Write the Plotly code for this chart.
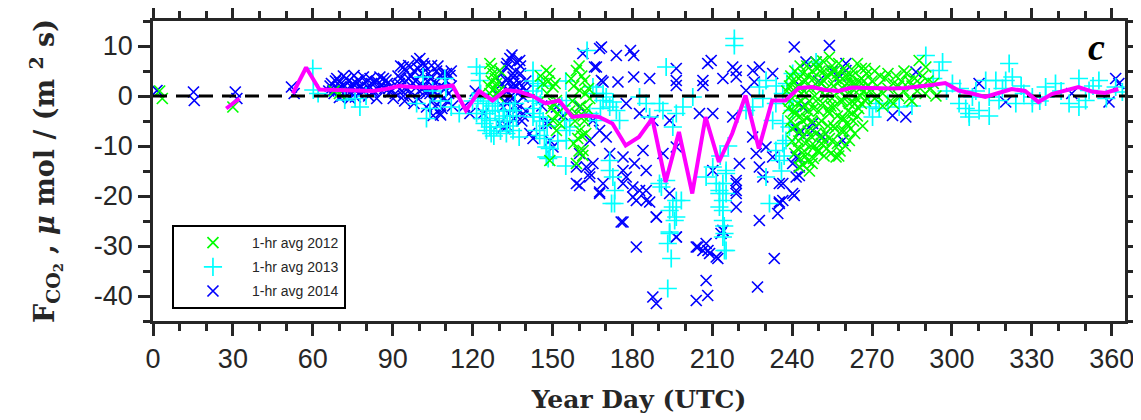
import plotly.graph_objects as go

# ---------------- data ----------------
pts_2012 = [
    (2.5, 1.0), (3.5, -0.5), (30, -2.2), (68, 1.0), (70, 0.5),
    (126.5, 6.5), (127.1, 5.5), (127.7, 4.5), (128.5, 3.5), (129, 2.5), (126.5, 0.5), (130.2, 5.1),
    (128, 1.5), (127, 3), (129.5, 0.0), (126, 2), (130, 1),
    (147.7, 5.1), (149, 4.5), (150.2, 1.8), (151.5, -0.9), (150.2, -4.9), (151.5, -6.9), (149, -12.9),
    (148.5, 3), (146.5, 2.5), (149.5, -2.5), (152, -3.5), (148, 0.5), (151, 2.5), (150.5, -1.5),
    (152.7, -5.5), (145.5, 4),
    (159, 5.1), (160.2, 1.1), (159, -3.5), (160.2, -6.9), (161.5, -10.9), (159, -13.5), (162.1, 3.1),
    (161.4, -11.9), (158, 2), (157.5, -1), (160.5, -2), (161, 4), (162.5, 0.5), (158.5, -5), (159.5, -8.5),
    (161, -8), (162, -5), (163, -2.5), (157, 3.5), (160, 6), (158, -9.5), (163.5, 1.5), (156.5, -3),
    (160, -11), (162.5, -7.5), (164, -0.5), (161.5, -4),
    (238, 1), (239, -1), (240, 3), (240.5, -3), (241, 5), (241.5, -6), (242, 2), (242.5, -9), (243, -4),
    (243.5, 0.5), (244, 4.5), (244.5, -11), (245, -2), (245.5, 6), (246, -7), (246.5, -15), (247, 1.5),
    (247.5, -5), (248, 3.5), (248.5, -10), (249, -1), (249.5, 5.5), (250, -3), (250.5, -8), (251, 2.5),
    (251.5, 7), (252, -12), (252.5, 0), (253, 4), (253.5, -6), (254, 7.8), (254.5, -2), (255, -9),
    (255.5, 2), (256, 5), (256.5, -12.2), (257, -4), (257.5, 1), (258, 3), (258.5, -7), (259, -1),
    (259.5, 5.5), (260, -10), (260.5, 2.5), (261, -3), (261.5, -8.9), (262, 0.5), (262.5, 4), (263, -5),
    (263.5, -1.5), (264, 2), (264.5, 6.5), (265, -2.5), (265.5, 0), (266, 3.5), (266.5, -6), (267, 1),
    (267.5, -1), (268, 4.5), (268.5, 2), (242.7, -14.2), (246, -13), (248, -12.5), (250, -11),
    (253, -10.5), (244, -8), (247, -10), (240, -9), (239.5, -5), (242, -1.5), (251, -5), (254, -3.5),
    (256, -6.5), (258, -11), (259.5, -4.5), (262, -6.5), (245, 3), (243, 6), (249, 6.8), (252, 5),
    (255, 6), (257, 4.5), (260, 4), (263, 2.5), (266, 5.5), (241, -11.5), (246, -3),
    (238.5, -2.5), (239, 2), (239.5, 4), (240, -6.5), (240.5, 0.5), (241, -3.5), (241.5, 1.5),
    (242, -10.5), (242.5, 3.5), (243, -7), (243.5, -1), (244, -5), (244.5, 1), (245, -9.5), (245.5, -4.5),
    (246, 4), (246.5, -1), (247, -8), (247.5, 5), (248, -2.5), (248.5, 0), (249, -7.5), (249.5, 2),
    (250, -5.5), (250.5, 5), (251, -9.5), (251.5, -1.5), (252, 3), (252.5, -7.5), (253, 1.5), (253.5, -3),
    (254, -8.5), (254.5, 4.5), (255, -0.5), (255.5, -6), (256, -2), (256.5, 3.5), (257, -9.5),
    (257.5, 6.5), (258, -1), (258.5, -4.5), (259, 1.5), (259.5, -7), (260, 0), (260.5, -5.5), (261, 4),
    (261.5, -1.5), (262, 2.5), (262.5, -3.5), (263, 5), (263.5, -7.5), (264, -0.5), (264.5, -4),
    (265, 3), (265.5, 1.5), (266, -1.5), (267, 3), (267.5, 5.5), (268, -0.5), (243, -12.5), (245, -12),
    (247.5, -13.5), (249.5, -11), (252, -9), (254.5, -11.5), (257.5, -12), (244, -13.8),
    (269, 1), (270, 3), (271, -0.5), (272, 2), (273, 4), (274, 0.5), (275, 3.5), (276, 1.5), (277, -1),
    (278, 2.5), (279, 4), (280, 0), (281, 3), (282, 1), (283, 4.5), (284, -0.5), (285, 2), (286, 3.5),
    (287, 1), (287.7, 7.1), (288, 2.5), (289, 4), (290, 0.5), (290.2, 5.8), (291, 3), (292, 1.5),
    (293, 2.5), (294, 0), (271, 5), (274, -2), (278, -1.5), (282, 5), (285, -1), (272, 0), (276, 4.5),
    (280, 2), (284, 3),
]

pts_2013 = [
    (60, 5.5), (60.2, 1.2), (62, 0.5), (72, -0.8), (75.9, -0.5), (77.7, -2.2), (80, 0), (99, -1.5),
    (101.4, 3.8), (102.7, -4.5), (105, 1.0), (108, -1), (109.6, 3.5), (112, -2.2), (115, -3.5),
    (110, 1.5), (104, -2.5),
    (121.5, 5.8), (122.7, 3.1), (122.7, 4.5), (121.5, -3.5), (125.2, -2.9), (125.2, -3.5), (126.5, -4.9),
    (126.5, -6.2), (129, -6.2), (125.2, -6.9), (131.5, -2.9), (135.2, -2.9), (132.7, -7.5), (134, -2.9),
    (135.2, -6.9), (123, 0.5), (124, -1.5), (127.5, -2), (128, -8), (130, -4.5), (133, -5), (136.5, -4),
    (137.5, -8.2), (120, -1), (122, -0.5),
    (123.5, -4.5), (124.5, -5.5), (126, -1), (127, -7.5), (128.5, -3), (129.5, -1.5), (130.5, -7),
    (132, -4), (134, -6), (136, -1.5),
    (142.7, 5.1), (142.7, 3), (142.7, 1), (142.7, -1), (142.7, -2.5), (142.7, -4.2), (144, -0.2),
    (144, -6.9), (145.2, -4.2), (145.2, -7.9), (147.7, -10.2), (147.7, -12.2), (150.2, -12.2),
    (148.4, -12.5), (155.2, -0.9), (156.5, -6.2), (155.2, -6.9), (155.2, -8.9), (154.6, -4.9), (155, 3),
    (155, -14), (146, 2), (152, -9), (153.5, -2),
    (143, -3.5), (144.5, 2.5), (145.5, -1.5), (146.5, -5), (147, -8.5), (148, -6), (149, -10.5),
    (163, 9.1), (165.2, 1.8), (169, -0.9), (171.5, -2.2), (174, -2.9), (166.5, -4.9), (175.2, -4.9),
    (171.5, -12.9), (172.7, -16.2), (173.3, -21.5), (172.2, -21.5), (173.4, -18.9), (171.5, -14.9),
    (164, -3.5), (169, 0.5), (166.5, 0.5), (170.2, -0.2), (172.7, -1.2), (168, -2.5),
    (182.7, -0.2), (185.2, -1.5), (186.5, -4.2), (190.2, -1.5), (191.5, -2.9), (196.5, -3.5), (199, -2.2),
    (195.2, -6.2), (190.2, -17.5), (192.7, -16.9), (196.5, -20.9), (195.2, -22.2), (196.5, -24.2),
    (194, -27.5), (193.3, -29.5), (194.6, -32.5), (193.3, -38.5), (192.7, 5.8), (198.4, -20.9),
    (194, -22.9), (190.9, -18.2), (195.9, -24.9), (194, -27.2),
    (202.7, -0.2), (207.7, -16.2), (210.2, -14.2), (211.5, -17.5), (212.7, -18.9), (214, -20.9),
    (214, -22.9), (214, -24.9), (214.6, -27.5), (214.6, -30.9), (215.2, -15.5), (215.2, -19.5),
    (212.7, -22.2), (215.2, -30.9), (214, -28.2), (214, -17.5), (212.7, -19.5), (215.2, -14.9),
    (218.3, 11.5), (218.3, 10.1), (213, -12), (216, -10), (214.5, -26),
    (222.7, -2.9), (225.2, -2.2), (227.7, 1.8), (230.2, 3.1), (233.9, -1.5), (236.5, 0.5), (240.2, 4.5),
    (240.2, -2.9), (232.7, -4.9), (239, -6.2), (231.5, -21.5), (230.2, -16.2), (233.9, -10.9),
    (237.7, -8.9), (235.2, -12.9), (236.5, -5.5), (236.5, -9.5), (237, -12), (236, -15), (238, 2.5),
    (239, -1), (234, 2), (229, -0.5), (249, 6.8),
    (269, -2.2), (271.5, -1.5), (272.7, -2.5), (280.2, -2.2), (270.2, -4.2), (290.2, 8.1), (296.5, 6.8),
    (295.2, 5.1), (300.2, 2.5), (276, -1.5), (285, -2), (293, 3.5), (298, 1),
    (302.7, -1.5), (305.2, -2.5), (306.5, -3.5), (310.2, -2.9), (312.7, 3.1), (316.5, 3.1), (320.2, 3.1),
    (321.5, 6.5), (322.7, 3.8), (324, -1.5), (330.2, -1.5), (335.2, 1.8), (338.9, 2.5), (344, -1.5),
    (347.7, 3.5), (350.2, -0.9), (355.2, 3.1), (361.5, 1.8), (317.7, -0.9), (307.7, -0.2), (314, -0.2),
    (330.2, -0.2), (335.2, -0.2), (347.7, -2.2), (351.5, 1.1), (306.5, -4.2), (314, -4), (327, 0.5),
    (341, 1), (358, -0.5), (364, 0.8), (303, 1.5), (309, 1), (319, 1.5), (326, 2), (333, -1), (353, 2),
]

pts_2014 = [
    (1.5, 1.1), (15.2, 0.8), (15.5, -0.9), (30.9, 0.8), (31.5, -0.5), (52, 1.8), (53, 0.5),
    (66, 1), (67, 2.5), (68, 0.5), (69, 3.5), (69.5, 1.5), (70, 2.8), (71, 0), (71.5, 4), (72, 2), (73, 1),
    (73.5, 3), (74, -0.5), (75, 2.5), (75.5, 4.1), (76, 1.2), (77, 3.2), (77.5, 0.3), (78, 2), (79, 3.8),
    (79.5, 1), (80, 2.8), (81, 0), (81.5, 3.5), (82.1, 2.5), (83, 1), (84, 3), (85.2, 3.8), (86.5, 3.5),
    (87, 1.5), (88, 2.5), (89, 0.8), (90.2, -0.5), (70, -0.3), (76, -0.2), (84, -0.5),
    (66.5, 2), (67.5, 1), (68.5, 3), (70.5, 1.8), (72.5, 3.5), (73, 0.2), (74.5, 1.8), (76.5, 2.5),
    (78.5, 1.2), (80.5, 1.8), (82.5, 0.8), (83.5, 2.8), (85, 1.5), (86, 2.2), (87.5, 3.2), (88.5, 1.5),
    (91.5, 2), (92, 4), (93, 6), (94, 5.8), (93.5, 1), (94.5, -1), (95, 3), (96, 6.1), (96.5, 0.5),
    (97.7, 2.5), (98, 5), (99, 7), (99.5, -0.5), (100.2, 7.5), (101, 4.5), (101.5, 1.5), (102, 6),
    (102.7, -2.2), (103, 3), (104, 0.5), (104.6, 6.1), (105, -0.9), (105.2, -3.9), (106, 2.5), (106.5, 5),
    (107, 0), (107.7, 4.1), (107.7, -3.5), (108.5, -2.5), (109, 4.5), (109.5, 1.5), (110.2, 4.5),
    (110.5, -1), (111.5, 4.1), (112, 2), (112.5, -2), (100, 1), (98, -1.5), (103.5, 4.5), (96, 3.5),
    (91, 0.5),
    (92.5, 2.5), (93, 3.5), (94, 0), (95.5, 1.5), (97, 4), (98.5, 3), (99.5, 5.5), (100.5, 2.5),
    (101.5, 6.5), (102.5, 0.5), (103.5, 1.5), (104.5, 3.5), (105.5, 1), (106, -2), (107, 6), (108, 2),
    (109, -0.5), (110, 3), (111, 0.5), (112, 5), (108, -3.8), (95, 5),
    (119, -3.5), (117, -2), (121, 1), (124, -3.5),
    (130.2, -5.5), (131.5, -2.2), (131.5, -6.2), (132.7, 3.1), (132.7, 5.8), (134, 7.5), (134.8, 8.2),
    (135.2, 4.5), (135.2, 3.8), (136.5, 6.8), (136.5, -1.5), (137.7, 7.1), (137.7, 2.5), (139, 1.8),
    (139, -0.2), (141.5, -7.5), (142.7, -8.5), (133, 1), (134.5, 0), (136, 2), (138, 4.5), (140, -3),
    (133.5, -3.5), (131, 2.5), (135.5, -4.5), (138.5, -5), (129, 0.5), (137, 0.5), (140, 3), (134, -1),
    (131, 4.5), (132, -1), (133, 6.5), (134, 3), (135, 1.5), (136, 5), (137, -2.5), (138, 6), (139, -4),
    (140, 1), (135.5, 2.5), (133, -6),
    (147.7, -5.5), (149, -8.9), (149, -5.5), (150.2, -10.2), (154, -3.9), (151.5, -2.2), (146, -2),
    (161.4, 8.5), (166.5, 5.8), (167.7, 9.5), (168.4, 9.8), (168.4, 3.1), (165.8, 5.8), (169, 2.8),
    (174, 8.1), (174.6, 2.8), (179.3, 9.1), (180.5, 8.1), (180.5, 3.8), (186.5, 3.5), (196.5, 5.5),
    (196.5, 3.1), (196.5, 2.1), (208.3, 6.5), (209.6, 7.1), (206.5, 3.1), (206.5, 2.1), (214, 3.5),
    (217.7, 5.8), (219, 5.1), (219, 3.8), (225.2, 5.1), (227.7, 5.8), (232.7, 4.5), (240.8, 9.8),
    (225.8, 2.8), (222.7, 1.1),
    (160.2, -2.2), (165.2, -4.9), (164, -8.9), (160.2, -11.5), (159, -14.2), (159, -17.5), (164, -15.5),
    (167.7, -19.5), (169, -17.5), (165.2, -13.5), (171.5, -11.5), (170.2, -8.2), (176.5, -12.2),
    (176.5, -14.9), (177.7, -16.2), (180.2, -18.2), (181.5, -20.9), (186.5, -21.2), (185.2, -18.9),
    (180.8, -13.5), (184, -10.9), (185.2, -14.9), (175.8, -25.2), (181.5, -30.2), (189, -24.2),
    (187.7, -40.2), (189, -41.5), (196.5, -28.2), (196.5, -10.2), (191.5, -11.5), (194, -19.5),
    (204, -30.2), (207.7, -29.5), (209, -31.5), (206.5, -30.9), (212.1, -32.5), (207.7, -36.9),
    (208.3, -39.9), (204, -40.9), (214, -26.9), (213.3, -27.5), (210.2, -14.9), (219, -17.5),
    (219, -18.9), (219, -22.2), (220.2, -13.5), (217.7, -4.2), (210.2, -3.5), (205.2, -3.5),
    (225.2, -8.2), (226.5, -11.5), (227.7, -14.2), (229, -16.2), (227.7, -24.9), (227, -38.2),
    (233.3, -32.5), (235.2, -17.5), (235.2, -21.5), (234.6, -23.5), (232.7, -12.2), (230.2, -10.2),
    (240.2, -19.5), (241.5, -16.2), (240.2, -13.5), (194, -4.9), (187.7, -4.9), (177.7, -1.5),
    (182.7, -3.5), (167.7, -6.9), (162.7, -14.2), (176.5, -25.2), (196.5, -28.2), (214, -26.9),
    (219, -16.9), (219, -19.5), (189, -24.2), (185.2, -20.9), (180.2, -20.2), (160.2, -17.9),
    (167.7, -19.2), (164, -16.2), (176.5, -17.5), (182.7, -18.9), (204.6, -30.2), (208.4, -30.9),
    (211.5, -32.2), (235.2, -21.2),
    (254, 10.1), (245.2, 6.8), (249, 6.8), (260.2, 6.5), (260.2, 5.1), (286.5, 4.8), (277.7, -3.9),
    (282.7, -4.2), (240.8, -6.2), (243.3, -6.9), (247.7, -6.9), (251.5, -8.2), (259, -8.9),
    (242.7, -14.2), (242.7, -7.5), (241.5, -12.2), (242.7, -15.9), (240.8, -19.9), (236.5, -17.5),
    (236.5, -20.9), (244, -2.2), (247.7, -5.5), (255, 5), (258, 4), (250, 3), (243, 2),
    (310.2, 2.5), (320.2, -1.2), (359, -1.2), (361.5, 3.5), (362.7, 2.5), (345, 0.5),
]

avg_days_a = [27.5, 32.5]
avg_vals_a = [-2.5, -0.5]
avg_days = [52.5, 57.5, 62.5, 67.5, 72.5, 77.5, 82.5, 87.5, 92.5, 97.5, 102.5, 107.5, 112.5, 117.5,
            122.5, 127.5, 132.5, 137.5, 142.5, 147.5, 152.5, 157.5, 162.5, 167.5, 172.5, 177.5, 182.5,
            187.5, 192.5, 197.5, 202.5, 207.5, 212.5, 217.5, 222.5, 227.5, 232.5, 237.5, 242.5, 247.5,
            252.5, 257.5, 262.5, 267.5, 272.5, 277.5, 282.5, 287.5, 292.5, 297.5, 302.5, 307.5, 312.5,
            317.5, 322.5, 327.5, 332.5, 337.5, 342.5, 347.5, 352.5, 357.5, 362.5]
avg_vals = [0.5, 5.7, 1.3, 1.2, 1.3, 1.0, 1.0, 1.4, 2.0, 1.8, 1.8, 1.7, 2.1, -2.9,
            1.0, -0.9, 1.2, 0.9, 0.0, -1.5, -0.9, -4.2, -3.9, -4.2, -5.5, -9.9, -8.2,
            -4.5, -17.2, -7.2, -19.5, -4.2, -13.2, -7.5, 0.1, -10.5, -0.9, -0.9, 1.6, 1.8,
            1.2, 1.0, 1.7, 1.6, 1.5, 1.5, 1.6, 1.8, 2.2, 2.6, 1.1, 0.5, -0.2,
            0.6, 1.4, 1.0, -1.2, 0.4, 1.0, 1.8, 0.9, 0.6, 1.4]

zero_days = [0, 365]
zero_vals = [0, 0]

x_ticks = [0, 30, 60, 90, 120, 150, 180, 210, 240, 270, 300, 330, 360]
y_ticks = [-40, -30, -20, -10, 0, 10]
y_tick_labels = ["-40", "-30", "-20", "-10", "0", "10"]

# ---------------- figure ----------------
def split(pts):
    return [p[0] for p in pts], [p[1] for p in pts]

fig = go.Figure()
x14, y14 = split(pts_2014)
x13, y13 = split(pts_2013)
x12, y12 = split(pts_2012)

fig.add_trace(go.Scatter(x=x14, y=y14, mode="markers", name="1-hr avg 2014", legendrank=3,
                         legendgroup="g14",
                         marker=dict(symbol="x-thin", size=11, color="#0000ff",
                                     line=dict(width=1.7, color="#0000ff"))))
fig.add_trace(go.Scatter(x=x13, y=y13, mode="markers", name="1-hr avg 2013", legendrank=2,
                         legendgroup="g13",
                         marker=dict(symbol="cross-thin", size=13, color="#00ffff",
                                     line=dict(width=1.7, color="#00ffff"))))
fig.add_trace(go.Scatter(x=x12, y=y12, mode="markers", name="1-hr avg 2012", legendrank=1,
                         legendgroup="g12",
                         marker=dict(symbol="x-thin", size=11, color="#00ff00",
                                     line=dict(width=1.7, color="#00ff00"))))
fig.add_trace(go.Scatter(x=zero_days, y=zero_vals, mode="lines", showlegend=False,
                         line=dict(color="black", width=3, dash="14px,9px")))
fig.add_trace(go.Scatter(x=avg_days_a, y=avg_vals_a, mode="lines", showlegend=False,
                         line=dict(color="#ff00ff", width=4)))
fig.add_trace(go.Scatter(x=avg_days, y=avg_vals, mode="lines", showlegend=False,
                         line=dict(color="#ff00ff", width=4)))

axis_col = "#262626"
tick_font = dict(family="Liberation Sans, Arial", size=27, color=axis_col)

# the page body adds an 8 px offset, so the figure is 8 px smaller each way
fig.update_layout(
    width=1133, height=412,
    margin=dict(l=145, r=16, t=13, b=99, autoexpand=False),
    plot_bgcolor="white", paper_bgcolor="white",
    showlegend=True,
    legend=dict(x=0.0195, y=0.32, xanchor="left", yanchor="top",
                bordercolor="black", borderwidth=2, bgcolor="white",
                font=dict(family="Liberation Sans, Arial", size=14, color=axis_col),
                itemwidth=68, tracegroupgap=3),
    xaxis=dict(range=[0, 365], tickvals=x_ticks, ticks="outside", ticklen=12, tickwidth=2.5,
               tickcolor=axis_col, showline=True, linecolor=axis_col, linewidth=2.5, mirror="ticks",
               showgrid=False, zeroline=False, tickfont=tick_font, automargin=False,
               minor=dict(ticks="outside", ticklen=7, tickwidth=2.5, dtick=10, tick0=0,
                          tickcolor=axis_col, showgrid=False),
               title=dict(text="Year Day (UTC)",
                          font=dict(family="DejaVu Serif", size=25, color=axis_col, weight="bold"),
                          standoff=18)),
    yaxis=dict(range=[-45, 15], tickvals=y_ticks, ticktext=y_tick_labels, ticks="outside",
               ticklen=12, tickwidth=2.5,
               tickcolor=axis_col, showline=True, linecolor=axis_col, linewidth=2.5, mirror="ticks",
               showgrid=False, zeroline=False, tickfont=tick_font, automargin=False,
               minor=dict(ticks="outside", ticklen=7, tickwidth=2.5, dtick=5, tick0=0,
                          tickcolor=axis_col, showgrid=False),
               title=dict(text="F<sub>CO<sub>2</sub></sub> , <i>\u03bc</i> mol / (m <sup>2</sup> s)",
                          font=dict(family="DejaVu Serif", size=27, color=axis_col, weight="bold"),
                          standoff=32)),
)

fig.add_annotation(x=0.981, y=0.99, xref="paper", yref="paper", text="<b><i>c</i></b>",
                   showarrow=False, font=dict(family="Liberation Serif", size=38, color="black"))

fig.write_html("out.html")
